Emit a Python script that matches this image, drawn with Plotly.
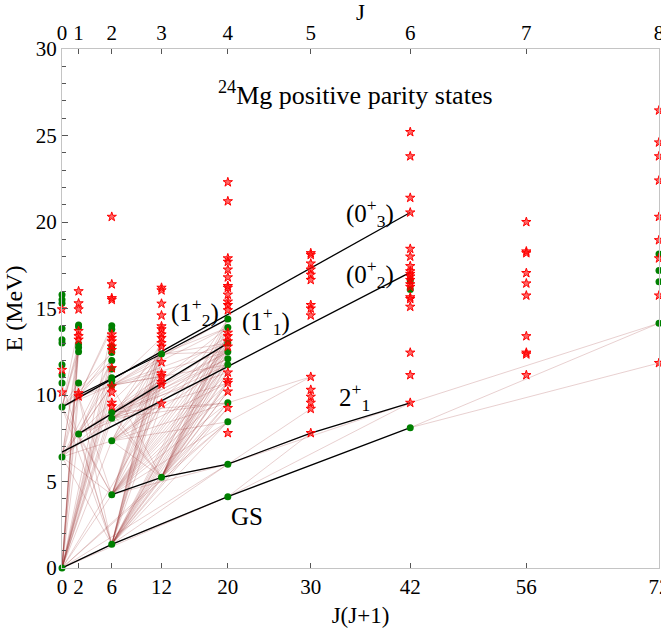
import plotly.graph_objects as go

# ---------------- data ----------------
J_values = [0, 1, 2, 3, 4, 5, 6, 7, 8]
JJ1 = [0, 2, 6, 12, 20, 30, 42, 56, 72]          # J(J+1)
top_tick_labels = ["0", "1", "2", "3", "4", "5", "6", "7", "8"]
bottom_tick_labels = ["0", "2", "6", "12", "20", "30", "42", "56", "72"]

# green = calculated states (MeV), per J
green_J0 = [0.0, 6.42, 9.3, 10.7, 11.15, 11.75, 13.0, 13.2, 13.85, 15.3, 15.5, 15.8]
green_J1 = [7.75, 10.7, 12.5, 12.75, 12.95, 13.95, 14.05]
green_J2 = [1.37, 4.24, 7.35, 8.65, 9.0, 10.55, 10.85, 11.0, 11.5, 12.0, 12.45, 12.8, 13.8, 14.0]
green_J3 = [5.24, 12.37]
green_J4 = [4.12, 6.0, 8.45, 9.55, 11.75, 12.1, 12.5, 13.0, 13.9, 14.4]
green_J6 = [8.11, 16.1, 16.6]
green_J8 = [14.15, 16.55, 17.2, 18.15]

# red stars, per J
red_J0 = [10.15, 11.45, 14.95]
red_J1 = [9.92, 10.1, 13.2, 13.4, 13.7, 14.95, 15.3, 16.0]
red_J2 = [9.35, 9.55, 10.15, 10.5, 11.55, 12.6, 12.8, 13.1, 13.3, 13.5, 15.5, 15.6, 16.4, 20.3]
red_J3 = [9.5, 10.6, 10.75, 11.1, 11.25, 11.9, 12.8, 13.0, 13.3, 13.5, 13.8, 13.97, 14.6, 15.28, 16.05, 16.2]
red_J4 = [7.8, 9.25, 10.2, 10.7, 10.85, 11.3, 12.8, 13.1, 13.4, 13.6, 14.9, 15.2, 15.4, 15.8,
          16.2, 16.3, 16.8, 17.25, 17.7, 17.9, 21.2, 22.3]
red_J5 = [7.8, 9.2, 9.55, 9.9, 10.3, 11.05, 14.6, 15.0, 15.2, 16.65, 16.95, 17.25, 17.6, 18.1, 18.2]
red_J6 = [9.55, 11.15, 12.45, 15.1, 15.55, 15.65, 16.25, 16.4, 16.65, 16.85, 17.0, 17.15, 17.45,
          18.0, 18.45, 20.55, 21.4, 23.8, 25.2]
red_J7 = [11.15, 12.35, 12.45, 13.4, 15.75, 16.45, 17.05, 18.2, 18.3, 20.0]
red_J8 = [11.85, 15.75, 17.9, 18.95, 20.3, 22.4, 23.8, 24.6, 26.45]

green_states = {0: green_J0, 1: green_J1, 2: green_J2, 3: green_J3, 4: green_J4, 6: green_J6, 8: green_J8}
red_states = {0: red_J0, 1: red_J1, 2: red_J2, 3: red_J3, 4: red_J4, 5: red_J5, 6: red_J6,
              7: red_J7, 8: red_J8}

# bands (black lines): J values and energies
band_GS_J = [0, 2, 4, 6]
band_GS_E = [0.0, 1.37, 4.12, 8.11]
band_gamma_J = [2, 3, 4, 5, 6]
band_gamma_E = [4.24, 5.24, 6.0, 7.8, 9.55]
band_02_J = [0, 6]
band_02_E = [6.7, 17.09]
band_03_J = [0, 6]
band_03_E = [9.3, 20.55]
band_12_J = [1, 3, 4]
band_12_E = [10.0, 12.37, 14.4]
band_11_J = [1, 4]
band_11_E = [7.75, 13.0]

# transitions: (J_from, E_from, J_to, [E_to ...])
transitions = [
    (0, 0.0, 1, [7.75, 9.92, 10.7, 12.5, 12.75, 12.95, 13.2, 13.95]),
    (0, 0.0, 2, [1.37, 4.24, 7.35, 8.65, 9.0, 9.35, 10.15, 10.55, 10.85, 11.0, 11.5, 12.0, 12.45, 13.8]),
    (0, 0.0, 3, [5.24, 9.5]),
    (0, 0.0, 4, [4.12, 6.0, 8.45]),
    (2, 1.37, 0, [6.42, 9.3, 10.7]),
    (2, 1.37, 1, [7.75, 9.92]),
    (2, 1.37, 3, [5.24, 9.5, 10.6, 11.1, 11.25, 11.9, 12.37, 12.8, 13.0, 13.3]),
    (2, 1.37, 4, [4.12, 6.0, 8.45, 9.25, 9.55, 10.2, 10.7, 11.3, 11.75, 12.1, 12.5, 13.0, 13.1, 13.4, 13.9, 14.4]),
    (2, 4.24, 0, [6.42, 9.3]),
    (2, 4.24, 1, [7.75, 9.92]),
    (2, 4.24, 3, [9.5, 10.6, 11.1, 11.9, 12.37, 12.8, 13.3]),
    (2, 4.24, 4, [6.0, 8.45, 9.55, 10.2, 10.7, 11.3, 11.75, 12.1, 12.5, 13.0, 13.4, 13.9, 14.4]),
    (3, 5.24, 2, [7.35, 8.65, 9.0, 10.55]),
    (3, 5.24, 4, [6.0, 8.45, 9.25, 9.55, 10.2, 10.7, 10.85, 11.3, 11.75, 12.1, 12.5, 12.8, 13.0, 13.4,
                  13.6, 13.9, 14.4]),
    (0, 6.42, 1, [7.75, 9.92, 10.7, 12.5, 12.95]),
    (0, 6.42, 2, [7.35, 8.65, 9.0, 10.55, 11.0, 12.0]),
    (1, 7.75, 2, [8.65, 9.0, 10.55, 11.5, 12.0]),
    (1, 7.75, 3, [9.5, 10.6, 11.1, 12.37]),
    (2, 7.35, 3, [9.5, 10.6, 11.1, 12.37, 12.8]),
    (2, 7.35, 4, [8.45, 9.55, 10.7, 11.75, 12.5, 13.0]),
    (0, 9.3, 1, [9.92, 10.7, 12.5, 12.75, 12.95, 13.95]),
    (0, 9.3, 2, [10.55, 11.0, 12.0, 12.45]),
    (2, 8.65, 3, [9.5, 10.6, 11.25, 12.37, 13.0]),
    (2, 8.65, 4, [9.55, 10.7, 11.75, 12.1, 12.5, 13.0, 13.9]),
    (2, 9.0, 3, [10.75, 11.9]),
    (2, 9.0, 4, [9.55, 11.3, 12.1, 12.5, 13.4]),
    (2, 10.55, 3, [11.1, 12.37, 13.3]),
    (2, 10.55, 4, [11.75, 12.5, 13.0, 13.9, 14.4]),
    (1, 9.92, 2, [10.55, 11.0, 12.0, 12.45, 13.8, 14.0]),
    (3, 12.37, 4, [12.5, 13.0, 13.9, 14.4]),
    (4, 4.12, 5, [7.8]),
    (4, 4.12, 6, [9.55]),
    (4, 6.0, 5, [7.8, 9.2]),
    (4, 6.0, 6, [9.55]),
    (4, 8.45, 5, [11.05]),
    (4, 9.55, 5, [11.05]),
    (6, 8.11, 8, [11.85, 14.15]),
    (6, 9.55, 8, [14.15]),
]

# ---------------- figure ----------------
def jj(J):
    return J * (J + 1)

fig = go.Figure()

# transition lines (one trace with gaps)
tx, ty = [], []
for Ji, Ei, Jf, Efs in transitions:
    for Ef in Efs:
        tx += [jj(Ji), jj(Jf), None]
        ty += [Ei, Ef, None]
fig.add_trace(go.Scatter(x=tx, y=ty, mode="lines",
                         line=dict(color="rgba(150,40,40,0.22)", width=1),
                         hoverinfo="skip", showlegend=False))

# band lines
for bJ, bE in [(band_GS_J, band_GS_E), (band_gamma_J, band_gamma_E), (band_02_J, band_02_E),
               (band_03_J, band_03_E), (band_12_J, band_12_E), (band_11_J, band_11_E)]:
    fig.add_trace(go.Scatter(x=[jj(j) for j in bJ], y=bE, mode="lines",
                             line=dict(color="black", width=1.3),
                             hoverinfo="skip", showlegend=False))

# green states
gx, gy = [], []
for J, Es in green_states.items():
    gx += [jj(J)] * len(Es)
    gy += Es
fig.add_trace(go.Scatter(x=gx, y=gy, mode="markers", cliponaxis=False,
                         marker=dict(symbol="circle", size=7, color="#008000"),
                         showlegend=False))

# red stars
rx, ry = [], []
for J, Es in red_states.items():
    rx += [jj(J)] * len(Es)
    ry += Es
fig.add_trace(go.Scatter(x=rx, y=ry, mode="markers", cliponaxis=False,
                         marker=dict(symbol="star", size=7, color="rgba(255,0,0,0.6)",
                                     line=dict(color="red", width=1)),
                         showlegend=False))

# invisible trace for top axis
fig.add_trace(go.Scatter(x=[JJ1[0], JJ1[-1]], y=[0, 0], xaxis="x2", mode="markers",
                         marker=dict(opacity=0), hoverinfo="skip", showlegend=False))

FONT = "Liberation Serif"
axis_line = "#c4c4c4"
tick_col = "#555555"

fig.update_layout(
    width=661, height=632,
    margin=dict(l=62, r=2, t=49, b=64, autoexpand=False),
    plot_bgcolor="white", paper_bgcolor="white",
    font=dict(family=FONT, size=21, color="black"),
    xaxis=dict(range=[0, 72], tickvals=JJ1, ticktext=bottom_tick_labels,
               ticks="inside", ticklen=5, tickcolor=tick_col, tickwidth=1,
               showline=True, linecolor=axis_line, linewidth=1.2, mirror=True,
               showgrid=False, zeroline=False, ticklabeloverflow="allow",
               tickfont=dict(family=FONT, size=21),
               title=dict(text="J(J+1)", font=dict(family=FONT, size=23), standoff=8)),
    xaxis2=dict(range=[0, 72], overlaying="x", side="top", tickvals=JJ1, ticktext=top_tick_labels,
                ticks="inside", ticklen=5, tickcolor=tick_col, tickwidth=1,
                showline=True, linecolor=axis_line, linewidth=1.2,
                showgrid=False, zeroline=False, ticklabeloverflow="allow",
                tickfont=dict(family=FONT, size=21),
                title=dict(text="J", font=dict(family=FONT, size=23), standoff=11)),
    yaxis=dict(range=[0, 30], tickvals=[0, 5, 10, 15, 20, 25, 30],
               ticks="inside", ticklen=6, tickcolor=tick_col, tickwidth=1,
               minor=dict(dtick=1, ticks="inside", ticklen=4, tickcolor=tick_col, tickwidth=1),
               showline=True, linecolor=axis_line, linewidth=1.2, mirror=True,
               showgrid=False, zeroline=False,
               tickfont=dict(family=FONT, size=21),
               title=dict(text="E (MeV)", font=dict(family=FONT, size=24), standoff=6)),
)

annotations = [
    (35.4, 27.4, "<sup>24</sup>Mg positive parity states", 26),
    (37.2, 20.5, "(0<sup>+</sup><sub>3</sub>)", 25),
    (37.2, 17.0, "(0<sup>+</sup><sub>2</sub>)", 25),
    (16.0, 14.8, "(1<sup>+</sup><sub>2</sub>)", 25),
    (24.6, 14.3, "(1<sup>+</sup><sub>1</sub>)", 25),
    (35.3, 9.9, "2<sup>+</sup><sub>1</sub>", 25),
    (22.3, 3.0, "GS", 25),
]
for x, y, t, s in annotations:
    fig.add_annotation(x=x, y=y, xref="x", yref="y", text=t, showarrow=False,
                       font=dict(family=FONT, size=s, color="black"))

# remove the default page margin so the 661x632 figure fills the window exactly
fig.write_html("out.html", config={"displayModeBar": False},
               post_script="document.body.style.margin='0';document.body.style.overflow='hidden';")
